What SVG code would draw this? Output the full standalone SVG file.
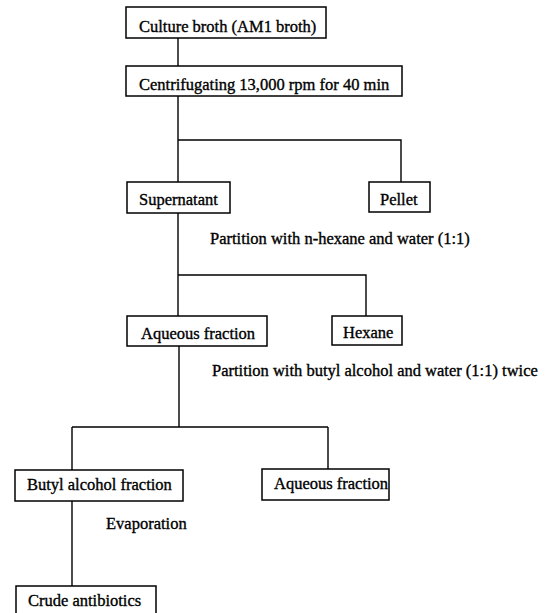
<svg xmlns="http://www.w3.org/2000/svg" width="549" height="613" viewBox="0 0 549 613">
<style>
.box{fill:#fff;stroke:#000;stroke-width:1.5}
.t{font-family:"Liberation Serif","Times New Roman",serif;font-size:16.5px;fill:#000;stroke:#000;stroke-width:0.35}
.c{fill:none;stroke:#000;stroke-width:1.4}
</style>
<rect width="549" height="613" fill="#fff"/>
<g id="connectors">
<path class="c" d="M178 38V66"/>
<path class="c" d="M178 96V182M178 140H401V182"/>
<path class="c" d="M178 213V316M178 275H366V316"/>
<path class="c" d="M179 346V427M72 427H328M72 427V470M328 427V469"/>
<path class="c" d="M72 501V586"/>
</g>
<g id="culture">
<rect class="box" x="126" y="7" width="200" height="31"/>
<text class="t" x="139" y="31.5">Culture broth (AM1 broth)</text>
</g>
<g id="centrifuge">
<rect class="box" x="126" y="66" width="276" height="30"/>
<text class="t" x="139" y="90">Centrifugating 13,000 rpm for 40 min</text>
</g>
<g id="supernatant">
<rect class="box" x="127" y="182" width="103" height="31"/>
<text class="t" x="139" y="205">Supernatant</text>
</g>
<g id="pellet">
<rect class="box" x="369" y="182" width="61" height="30"/>
<text class="t" x="380" y="205">Pellet</text>
</g>
<g id="label-hexane">
<text class="t" x="210" y="244">Partition with n-hexane and water (1:1)</text>
</g>
<g id="aqueous1">
<rect class="box" x="127" y="316" width="140" height="30"/>
<text class="t" x="141" y="338.5">Aqueous fraction</text>
</g>
<g id="hexane">
<rect class="box" x="332" y="316" width="70" height="29"/>
<text class="t" x="343" y="338">Hexane</text>
</g>
<g id="label-butyl">
<text class="t" x="212" y="376">Partition with butyl alcohol and water (1:1) twice</text>
</g>
<g id="butyl">
<rect class="box" x="15" y="470" width="168" height="31"/>
<text class="t" x="27" y="489.5">Butyl alcohol fraction</text>
</g>
<g id="aqueous2">
<rect class="box" x="262" y="469" width="127" height="31"/>
<text class="t" x="274" y="489">Aqueous fraction</text>
</g>
<g id="label-evap">
<text class="t" x="106" y="529">Evaporation</text>
</g>
<g id="crude">
<rect class="box" x="16" y="586" width="140" height="34"/>
<text class="t" x="28" y="606">Crude antibiotics</text>
</g>
</svg>
